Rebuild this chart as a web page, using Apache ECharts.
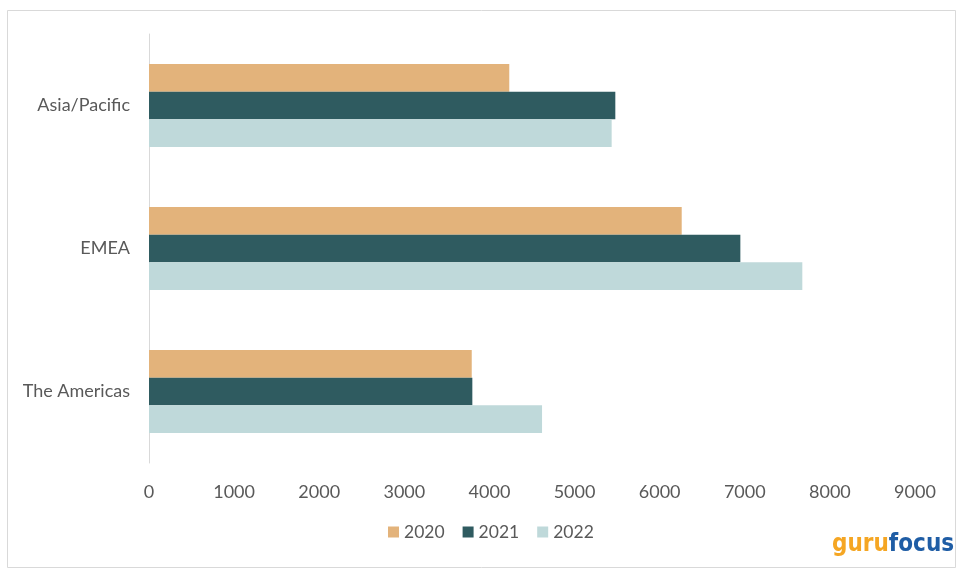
<!DOCTYPE html>
<html>
<head>
<meta charset="utf-8">
<script src="https://cdn.jsdelivr.net/npm/echarts@6/dist/echarts.min.js"></script>
<style>
html,body{margin:0;padding:0;background:#fff;}
#chart{width:959px;height:573px;}
</style>
</head>
<body>
<div id="chart"></div>
<script>
const categories = ['Asia/Pacific', 'EMEA', 'The Americas'];
const seriesNames = ['2020', '2021', '2022'];
const values2020 = [4233, 6259, 3792];
const values2021 = [5479, 6948, 3799];
const values2022 = [5436, 7676, 4618];
const xTicks = [0, 1000, 2000, 3000, 4000, 5000, 6000, 7000, 8000, 9000];
const colors = ['#E3B37B', '#2F5B60', '#BFD9DA'];

const chart = echarts.init(document.getElementById('chart'), null, {renderer: 'canvas'});
const font = 'Lato, "Open Sans", "Liberation Sans", sans-serif';
const allValues = [values2020, values2021, values2022];

chart.setOption({
  animation: false,
  backgroundColor: '#ffffff',
  grid: {left: 149, right: 44, top: 34, bottom: 110, containLabel: false},
  legend: {
    data: seriesNames,
    bottom: 27,
    left: 383,
    itemWidth: 11,
    itemHeight: 11,
    itemGap: 18,
    icon: 'rect',
    textStyle: {color: '#595959', fontSize: 17.5, fontFamily: font}
  },
  xAxis: {
    type: 'value',
    min: xTicks[0],
    max: xTicks[xTicks.length - 1],
    interval: 1000,
    axisLine: {show: false},
    axisTick: {show: false},
    splitLine: {show: false},
    axisLabel: {color: '#595959', fontSize: 18, fontFamily: font, margin: 20, formatter: v => String(v)}
  },
  yAxis: {
    type: 'category',
    data: categories,
    inverse: true,
    axisLine: {show: true, lineStyle: {color: '#D9D9D9', width: 1}},
    axisTick: {show: false},
    axisLabel: {color: '#595959', fontSize: 18, fontFamily: font, margin: 19}
  },
  series: seriesNames.map((name, i) => ({
    name: name,
    type: 'bar',
    data: allValues[i],
    barGap: '0%',
    barCategoryGap: '42%',
    itemStyle: {color: colors[i]}
  })),
  graphic: [
    {
      type: 'rect',
      shape: {x: 7.5, y: 10.5, width: 948, height: 557},
      style: {fill: 'none', stroke: '#D9D9D9', lineWidth: 1},
      silent: true
    },
    {
      type: 'text',
      left: 832,
      top: 533,
      style: {
        rich: {
          g: {fill: '#F5A623', fontSize: 24, fontWeight: 'bold', fontFamily: '"DejaVu Sans Condensed", "Liberation Sans Narrow", sans-serif'},
          f: {fill: '#1F5DA5', fontSize: 24, fontWeight: 'bold', fontFamily: '"DejaVu Sans Condensed", "Liberation Sans Narrow", sans-serif'}
        },
        text: '{g|guru}{f|focus}'
      }
    }
  ]
});
</script>
</body>
</html>
